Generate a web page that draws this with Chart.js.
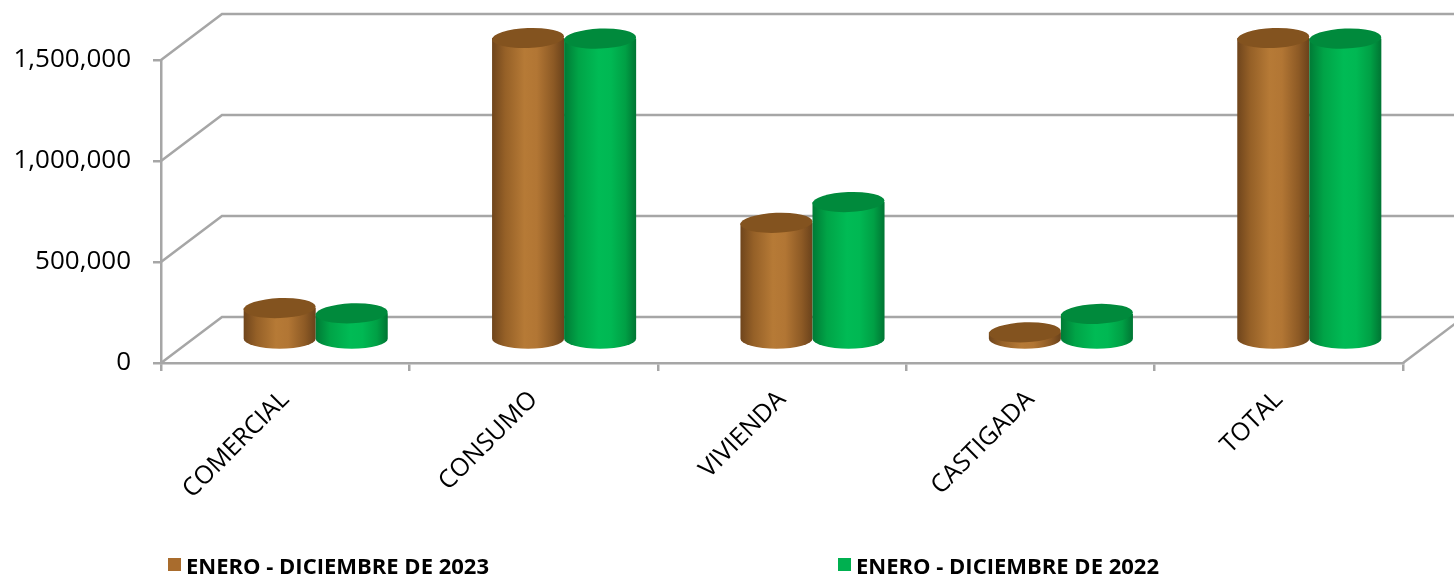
<!DOCTYPE html>
<html>
<head>
<meta charset="utf-8">
<script src="https://cdn.jsdelivr.net/npm/chart.js@4.4.0/dist/chart.umd.min.js"></script>
<style>
body{margin:0;background:#fff}
</style>
</head>
<body>
<canvas id="grafico" width="1454" height="576"></canvas>
<script>
// DATOS
const categorias=['COMERCIAL','CONSUMO','VIVIENDA','CASTIGADA','TOTAL']
const serie2023=[158000,1495000,580000,38000,1495000]
const serie2022=[132000,1492000,683000,129000,1492000]
const nombres=['ENERO - DICIEMBRE DE 2023','ENERO - DICIEMBRE DE 2022']
const ticksY=[0,500000,1000000,1500000]

const colores=['#a96c2d','#00b050']
const gris='#a6a6a6'
const DX=61, DY=-46   // profundidad de la pared del fondo

// degradados de los cilindros
const tonos=[
{cuerpo:[[0,'#6f451c'],[0.18,'#956027'],[0.45,'#b67a36'],[0.62,'#b27634'],[0.85,'#8d5a25'],[1,'#6a421b']],tapa:'#83531f'},
{cuerpo:[[0,'#007a35'],[0.2,'#00a447'],[0.48,'#00bb55'],[0.65,'#00b853'],[0.85,'#00a045'],[1,'#007533']],tapa:'#008a3c'}
]

function cilindro(ctx,cx,yTop,yBot,rx,ry,t){
let g=ctx.createLinearGradient(cx-rx,0,cx+rx,0)
t.cuerpo.forEach(s=>g.addColorStop(s[0],s[1]))
ctx.fillStyle=g
ctx.beginPath()
ctx.moveTo(cx-rx,yTop)
ctx.lineTo(cx-rx,yBot)
ctx.ellipse(cx,yBot,rx,ry,0,Math.PI,0,true)
ctx.lineTo(cx+rx,yTop)
ctx.closePath()
ctx.fill()
// tapa
ctx.fillStyle=t.tapa
ctx.beginPath()
ctx.ellipse(cx,yTop,rx,ry,-0.04,0,Math.PI*2)
ctx.fill()
}

const efecto3d={
id:'efecto3d',
beforeDatasetsDraw(chart){
const ctx=chart.ctx
const y=chart.scales.y
const a=chart.chartArea
ctx.save()
ctx.strokeStyle=gris
ctx.lineWidth=2.5
ticksY.forEach(v=>{
let py=y.getPixelForValue(v)
ctx.beginPath()
ctx.moveTo(a.left,py)
ctx.lineTo(a.left+DX,py+DY)
ctx.lineTo(a.right+DX,py+DY)
ctx.stroke()
})
let p0=y.getPixelForValue(0)
ctx.beginPath()
ctx.moveTo(a.right,p0)
ctx.lineTo(a.right+DX,p0+DY)
ctx.stroke()
ctx.restore()
},
beforeDatasetDraw(){
return false
},
afterDatasetsDraw(chart){
const ctx=chart.ctx
ctx.save()
chart.data.datasets.forEach((ds,d)=>{
chart.getDatasetMeta(d).data.forEach(bar=>{
let rx=bar.width/2
cilindro(ctx,bar.x+DX/2,bar.y+DY/2,bar.base+DY/2,rx,10,tonos[d])
})
})
ctx.restore()
},
afterDraw(chart){
// leyenda
const ctx=chart.ctx
const pos=[168,838]
ctx.save()
ctx.font='bold 22px "Open Sans"'
ctx.textBaseline='alphabetic'
nombres.forEach((n,i)=>{
ctx.fillStyle=colores[i]
ctx.fillRect(pos[i],558,13,13)
ctx.fillStyle='#000'
ctx.fillText(n,pos[i]+18,574,i==0?305:315)
})
ctx.restore()
}
}

new Chart(document.getElementById('grafico'),{
type:'bar',
data:{
labels:categorias,
datasets:[
{label:nombres[0],data:serie2023,backgroundColor:colores[0]},
{label:nombres[1],data:serie2022,backgroundColor:colores[1]}
]
},
options:{
responsive:false,
animation:false,
events:[],
layout:{padding:{top:60,right:51,left:0,bottom:0}},
categoryPercentage:0.58,
barPercentage:1,
plugins:{legend:{display:false},tooltip:{enabled:false}},
scales:{
x:{
grid:{drawOnChartArea:false,drawTicks:true,tickLength:8,color:gris,lineWidth:2.5},
border:{display:true,color:gris,width:2.5},
ticks:{color:'#000',font:{family:'"Open Sans"',size:25},minRotation:45,maxRotation:45,padding:14},
afterFit(s){s.height=213}
},
y:{
min:0,max:1500000,
afterBuildTicks(s){s.ticks=ticksY.map(v=>({value:v}))},
grid:{drawOnChartArea:false,drawTicks:true,tickLength:8,color:gris,lineWidth:2.5},
border:{display:true,color:gris,width:2.5},
ticks:{color:'#000',font:{family:'"Open Sans"',size:26},padding:22,
callback:v=>v.toLocaleString('en-US')},
afterFit(s){s.width=161}
}
}
},
plugins:[efecto3d]
})
</script>
</body>
</html>
